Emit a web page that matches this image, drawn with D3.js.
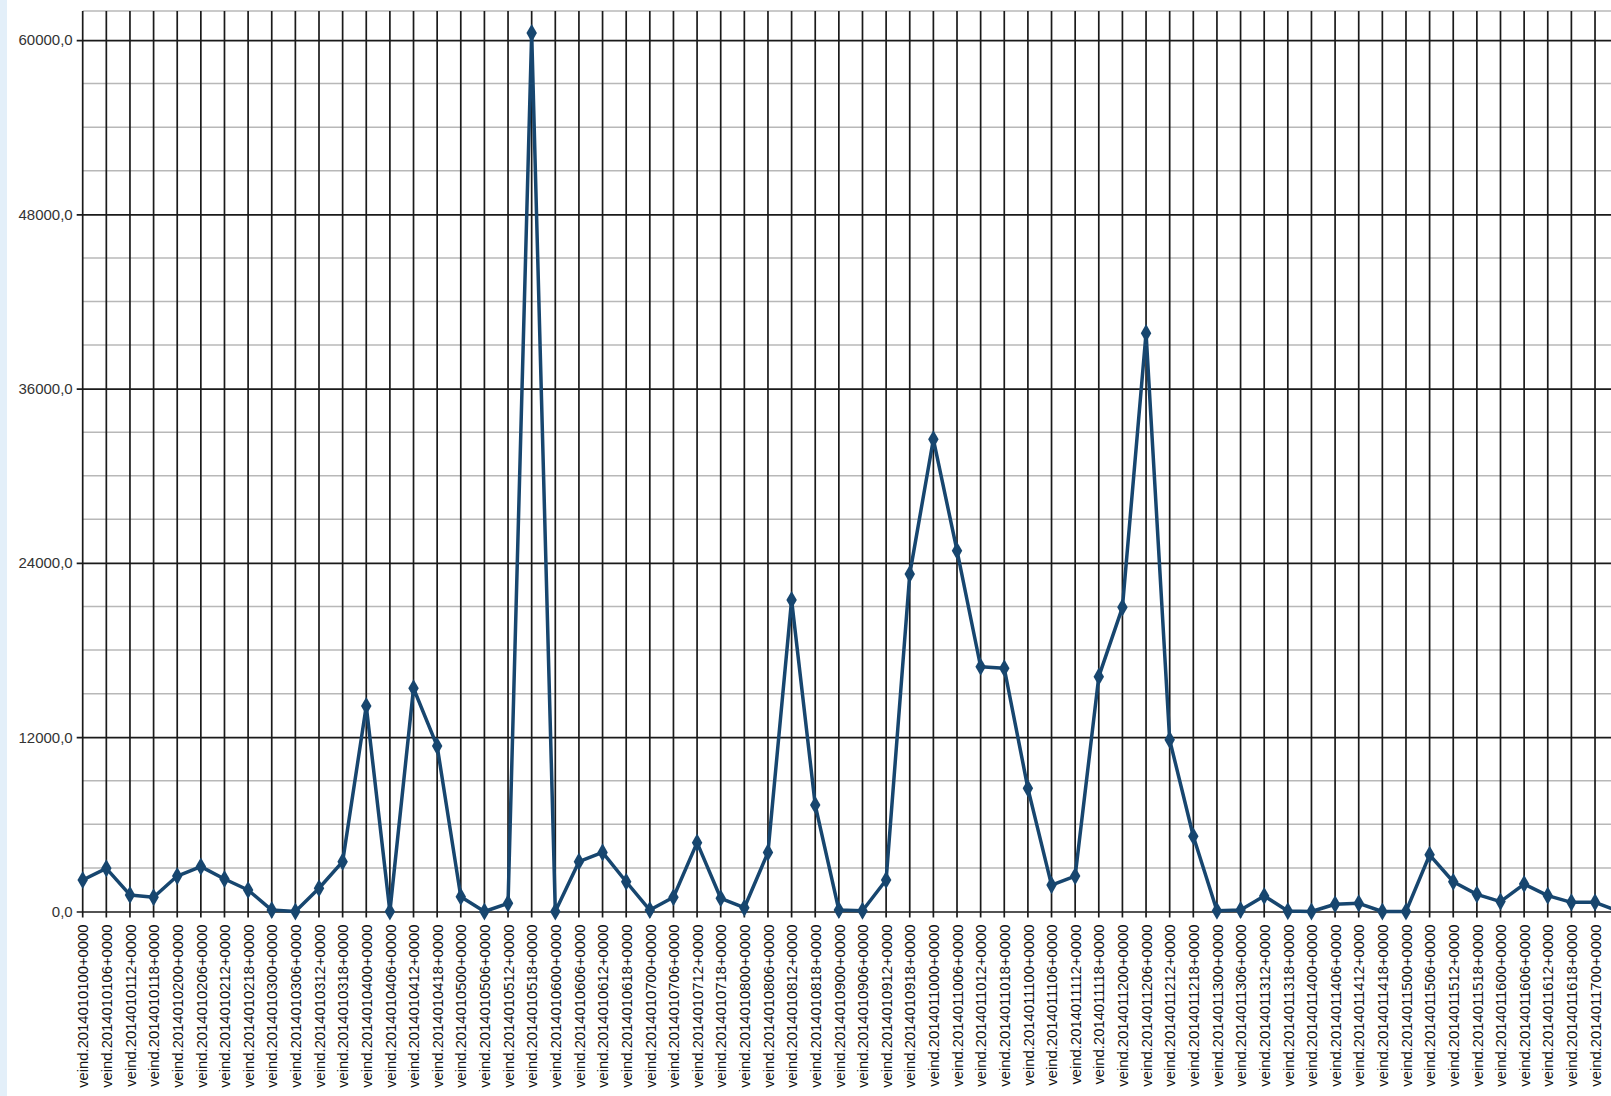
<!doctype html>
<html>
  <head>
    <meta charset="utf-8">
    <title>veind</title>
    <script src="https://cdn.jsdelivr.net/npm/d3@7"></script>
    <style>
      body { margin: 0; background: #fff; }
      text { font-family: "Liberation Sans", Arial, sans-serif; fill: #111; }
    </style>
  </head>
  <body>
    <script>
      // kategooriad (6h sammuga)
      const categories = [
        '0100', '0106', '0112', '0118', '0200', '0206', '0212', '0218',
        '0300', '0306', '0312', '0318', '0400', '0406', '0412', '0418',
        '0500', '0506', '0512', '0518', '0600', '0606', '0612', '0618',
        '0700', '0706', '0712', '0718', '0800', '0806', '0812', '0818',
        '0900', '0906', '0912', '0918', '1000', '1006', '1012', '1018',
        '1100', '1106', '1112', '1118', '1200', '1206', '1212', '1218',
        '1300', '1306', '1312', '1318', '1400', '1406', '1412', '1418',
        '1500', '1506', '1512', '1518', '1600', '1606', '1612', '1618',
        '1700', '1706'
      ].map(d => `veind.201401${d}+0000`);

      const values = [
        2170, 2970, 1140, 980, 2440, 3090, 2240, 1480,
        100, 0, 1600, 3430, 14150, 0, 15370, 11390,
        1020, 0, 560, 60480, 0, 3430, 4070, 2050,
        100, 980, 4740, 910, 260, 4070, 21450, 7330,
        100, 55, 2170, 23230, 32510, 24840, 16850, 16750,
        8480, 1820, 2440, 16170, 20940, 39820, 11820, 5180,
        50, 100, 1070, 30, 0, 500, 560, 0,
        0, 3900, 2050, 1180, 680, 1890, 1090, 630,
        630, 20
      ];

      const majorTicks = [0, 12000, 24000, 36000, 48000, 60000];
      const minorTicks = d3.range(0, 60001, 3000);

      const width = 1611;
      const height = 1096;
      const yTop = 11;
      const yZero = 911.5;
      const xFirst = 82.7;
      const step = 23.63;
      const yMax = 62000;

      const svg = d3.select('body').append('svg')
          .attr('width', width)
          .attr('height', height);

      // vasak hele riba
      svg.append('rect')
          .attr('x', 0).attr('y', 0)
          .attr('width', 7).attr('height', height)
          .attr('fill', '#e3eff9');

      const xScale = d3.scalePoint()
          .domain(categories)
          .range([xFirst, xFirst + step * (categories.length - 1)]);
      const yScale = d3.scaleLinear()
          .domain([0, yMax])
          .range([yZero, yTop]);

      const plotRight = xFirst + step * categories.length;

      // abijooned
      svg.append('g').selectAll('line')
        .data(minorTicks.filter(v => !majorTicks.includes(v)).concat([yMax]))
        .enter().append('line')
          .attr('x1', xFirst).attr('x2', plotRight)
          .attr('y1', d => yScale(d)).attr('y2', d => yScale(d))
          .attr('stroke', '#b8b8b8')
          .attr('stroke-width', 1.5);

      // vertikaalsed jooned
      svg.append('g').selectAll('line')
        .data(categories)
        .enter().append('line')
          .attr('x1', d => xScale(d)).attr('x2', d => xScale(d))
          .attr('y1', yTop).attr('y2', yZero + 6)
          .attr('stroke', '#1a1a1a')
          .attr('stroke-width', 1.7);

      // y telg
      const locale = d3.formatLocale({ decimal: ',', thousands: '', grouping: [3], currency: ['', ''] });
      const yAxis = d3.axisLeft(yScale)
          .tickValues(majorTicks)
          .tickFormat(locale.format('.1f'))
          .tickSize(-(plotRight - xFirst))
          .tickPadding(10);
      const gY = svg.append('g')
          .attr('transform', `translate(${xFirst}, 0)`)
          .call(yAxis);
      gY.select('.domain').remove();
      gY.selectAll('.tick line')
          .attr('x1', -6)
          .attr('stroke', '#1a1a1a')
          .attr('stroke-width', 1.7);
      gY.selectAll('.tick text')
          .attr('font-size', 15)
          .attr('x', -10)
          .style('fill', '#333');

      // x telg (sildid) - ainult need, mis pildile mahuvad
      const xAxis = d3.axisBottom(xScale)
          .tickValues(categories.filter(c => xScale(c) + 9 < width))
          .tickSize(0)
          .tickPadding(0);
      const gX = svg.append('g')
          .attr('transform', `translate(0, ${yZero})`)
          .call(xAxis);
      gX.select('.domain').remove();
      gX.selectAll('.tick text')
          .attr('font-size', 14.8)
          .attr('transform', 'rotate(-90)')
          .attr('text-anchor', 'end')
          .attr('x', -13)
          .attr('y', 0)
          .attr('dy', '0.35em')
          .style('fill', '#111');

      // joon
      const linePath = d3.line()
          .x((d, i) => xScale(categories[i]))
          .y(d => yScale(d));
      svg.append('path')
          .datum(values)
          .attr('d', linePath)
          .attr('fill', 'none')
          .attr('stroke', '#17466f')
          .attr('stroke-width', 3.5)
          .attr('stroke-linejoin', 'round');

      // rombid
      const diamond = d3.symbol().type(d3.symbolDiamond).size(95);
      svg.append('g').selectAll('path')
        .data(values)
        .enter().append('path')
          .attr('d', diamond)
          .attr('transform', (d, i) => `translate(${xScale(categories[i])}, ${yScale(d)})`)
          .attr('fill', '#17466f');
    </script>
  </body>
</html>
